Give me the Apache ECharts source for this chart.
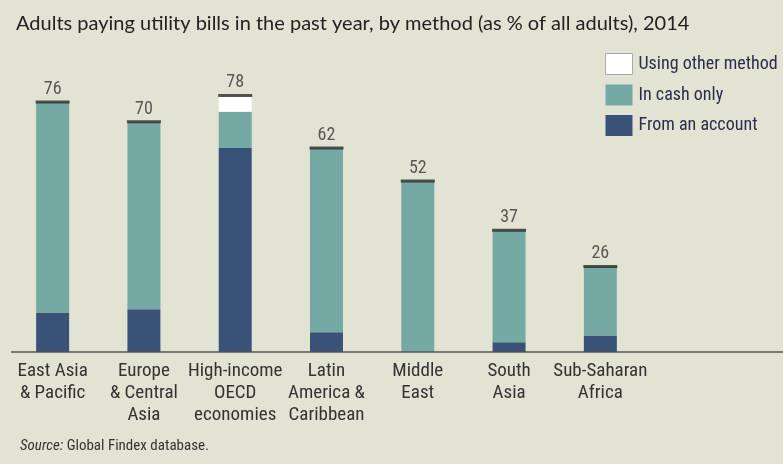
<!DOCTYPE html>
<html>
<head>
<meta charset="utf-8">
<script src="https://cdn.jsdelivr.net/npm/echarts@6/dist/echarts.min.js"></script>
<style>
  html, body { margin: 0; padding: 0; background: #e3e3d3; }
  #chart { width: 783px; height: 464px; }
</style>
</head>
<body>
<div id="chart"></div>
<script>
// Regions shown along the horizontal axis
const regions = [
  'East Asia\n& Pacific',
  'Europe\n& Central\nAsia',
  'High-income\nOECD\neconomies',
  'Latin\nAmerica &\nCaribbean',
  'Middle\nEast',
  'South\nAsia',
  'Sub-Saharan\nAfrica'
];

// Share of adults (%) paying utility bills, by payment method
const fromAccount = [12, 13, 62, 6, 0, 3, 5];
const cashOnly    = [64, 57, 11, 56, 52, 34, 21];
const otherMethod = [0, 0, 5, 0, 0, 0, 0];

// Total per region, shown above each stack
const totals = regions.map((_, i) => fromAccount[i] + cashOnly[i] + otherMethod[i]);

const narrow = '"Roboto Condensed", "DejaVu Sans Condensed", sans-serif';

const chart = echarts.init(document.getElementById('chart'));

chart.setOption({
  backgroundColor: '#e3e3d3',
  animation: false,
  title: {
    text: 'Adults paying utility bills in the past year, by method (as % of all adults), 2014',
    left: 11,
    top: 9,
    textStyle: { fontFamily: 'Lato, sans-serif', fontSize: 20, fontWeight: 'normal', color: '#222' }
  },
  legend: {
    orient: 'vertical',
    left: 600,
    top: 48,
    icon: 'rect',
    itemWidth: 27,
    itemHeight: 21,
    itemGap: 9.5,
    textStyle: { fontFamily: narrow, fontSize: 18, color: '#2b2d4c', padding: [0, 0, 0, 1] },
    data: [
      { name: 'Using other method', itemStyle: { borderColor: '#aaa', borderWidth: 1 } },
      'In cash only',
      'From an account'
    ]
  },
  grid: { left: 7, right: 137, top: 23, bottom: 112 },
  xAxis: {
    type: 'category',
    data: regions,
    axisLine: { show: false },
    axisTick: { show: false },
    axisLabel: {
      interval: 0,
      margin: 8,
      fontFamily: narrow,
      fontSize: 19,
      lineHeight: 22,
      color: '#333',
      verticalAlign: 'top'
    }
  },
  yAxis: { type: 'value', min: 0, max: 100, show: false },
  series: [
    {
      name: 'From an account', type: 'bar', stack: 'm', barWidth: 33,
      itemStyle: { color: '#385278' }, data: fromAccount
    },
    {
      name: 'In cash only', type: 'bar', stack: 'm', barWidth: 33,
      itemStyle: { color: '#75a9a3' }, data: cashOnly
    },
    {
      name: 'Using other method', type: 'bar', stack: 'm', barWidth: 33,
      itemStyle: { color: '#ffffff' }, data: otherMethod
    },
    {
      name: 'Total', type: 'scatter', symbol: 'rect', symbolSize: [34, 3],
      itemStyle: { color: '#2a2a2a' },
      label: {
        show: true, position: 'top', distance: 2,
        fontFamily: narrow, fontSize: 18, color: '#333'
      },
      data: totals,
      z: 5
    }
  ],
  graphic: [
    {
      type: 'line',
      shape: { x1: 11, y1: 352, x2: 783, y2: 352 },
      style: { stroke: '#555', lineWidth: 1.5 },
      z: 10
    },
    {
      type: 'text',
      left: 20,
      top: 439,
      style: {
        text: '{i|Source:} Global Findex database.',
        rich: {
          i: { fontStyle: 'italic', fontFamily: narrow, fontSize: 15, fill: '#333' }
        },
        font: '15px ' + narrow,
        fill: '#333'
      }
    }
  ]
});
</script>
</body>
</html>
